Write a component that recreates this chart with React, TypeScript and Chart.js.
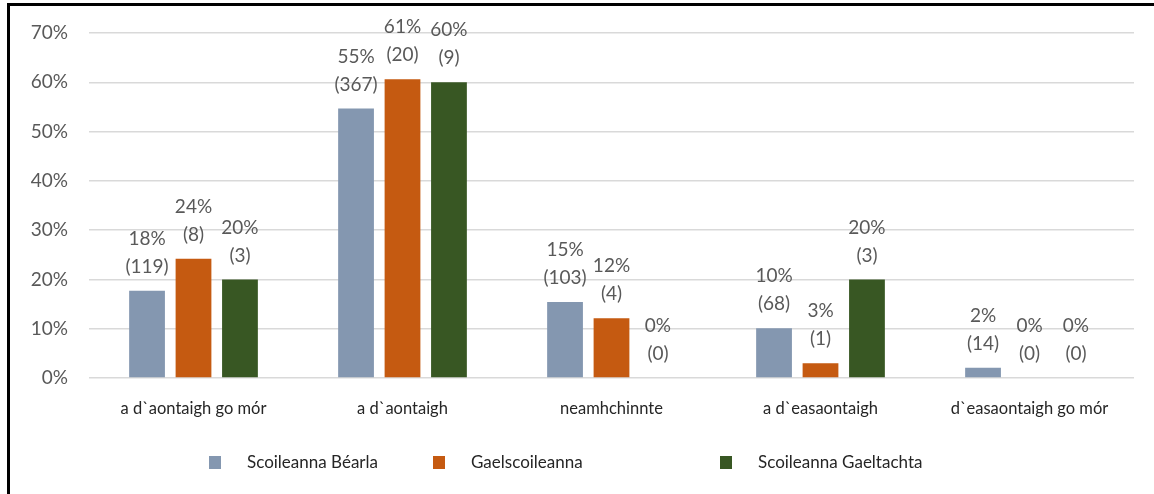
import React, { useEffect, useRef } from 'react';
import { Chart, registerables } from 'chart.js';

Chart.register(...registerables);

const categories = ['a d`aontaigh go mór', 'a d`aontaigh', 'neamhchinnte', 'a d`easaontaigh', 'd`easaontaigh go mór'];
const seriesNames = ['Scoileanna Béarla', 'Gaelscoileanna', 'Scoileanna Gaeltachta'];
const seriesColors = ['#8497B0', '#C55A11', '#385723'];

const bearlaValues = [17.7, 54.7, 15.4, 10.1, 2.1];
const gaelValues = [24.2, 60.6, 12.1, 3.0, 0];
const gaeltachtValues = [20, 60, 0, 20, 0];

const bearlaPct = ['18%', '55%', '15%', '10%', '2%'];
const bearlaCounts = ['(119)', '(367)', '(103)', '(68)', '(14)'];
const gaelPct = ['24%', '61%', '12%', '3%', '0%'];
const gaelCounts = ['(8)', '(20)', '(4)', '(1)', '(0)'];
const gaeltachtPct = ['20%', '60%', '0%', '20%', '0%'];
const gaeltachtCounts = ['(3)', '(9)', '(0)', '(3)', '(0)'];

const yTicks = [0, 10, 20, 30, 40, 50, 60, 70];

const FONT = 'Lato, "Open Sans", sans-serif';

const pctLabels = [bearlaPct, gaelPct, gaeltachtPct];
const countLabels = [bearlaCounts, gaelCounts, gaeltachtCounts];

const labelPlugin = {
  id: 'twoLineLabels',
  afterDatasetsDraw(chart: any) {
    const ctx = chart.ctx;
    ctx.save();
    ctx.font = `19px ${FONT}`;
    ctx.fillStyle = '#595959';
    ctx.textAlign = 'center';
    ctx.textBaseline = 'middle';
    chart.data.datasets.forEach((_ds: any, di: number) => {
      const meta = chart.getDatasetMeta(di);
      meta.data.forEach((el: any, i: number) => {
        ctx.fillText(countLabels[di][i], el.x, el.y - 24);
        ctx.fillText(pctLabels[di][i], el.x, el.y - 52);
      });
    });
    ctx.restore();
  },
};

const legendBoxX = [209, 433, 720];

const legendPlugin = {
  id: 'customLegend',
  afterDraw(chart: any) {
    const ctx = chart.ctx;
    ctx.save();
    ctx.font = `17px ${FONT}`;
    ctx.textBaseline = 'middle';
    ctx.textAlign = 'left';
    const y = 463;
    seriesNames.forEach((name, i) => {
      ctx.fillStyle = seriesColors[i];
      ctx.fillRect(legendBoxX[i], y - 7, 12, 13);
      ctx.fillStyle = '#262626';
      ctx.fillText(name, legendBoxX[i] + 38, y);
    });
    ctx.restore();
  },
};

export default function App() {
  const canvasRef = useRef<HTMLCanvasElement | null>(null);

  useEffect(() => {
    if (!canvasRef.current) return;
    const chart = new Chart(canvasRef.current, {
      type: 'bar',
      data: {
        labels: categories,
        datasets: [
          { label: seriesNames[0], data: bearlaValues, backgroundColor: seriesColors[0] },
          { label: seriesNames[1], data: gaelValues, backgroundColor: seriesColors[1] },
          { label: seriesNames[2], data: gaeltachtValues, backgroundColor: seriesColors[2] },
        ],
      },
      options: {
        responsive: false,
        animation: false,
        layout: { padding: { top: 33, right: 20, bottom: 56, left: 0 } },
        datasets: {
          bar: { categoryPercentage: 0.667, barPercentage: 0.77 },
        },
        plugins: {
          legend: { display: false },
          tooltip: { enabled: false },
        },
        scales: {
          x: {
            grid: { display: false, drawTicks: false },
            border: { display: false },
            ticks: {
              padding: 21,
              color: '#262626',
              font: { family: FONT, size: 16.5 },
            },
            afterFit(scale: any) {
              scale.height = 60;
            },
          },
          y: {
            min: 0,
            max: 70,
            afterBuildTicks(scale: any) {
              scale.ticks = yTicks.map((v) => ({ value: v }));
            },
            grid: { color: '#D9D9D9', lineWidth: 1.5, drawTicks: false },
            border: { display: false },
            ticks: {
              padding: 21,
              color: '#595959',
              font: { family: FONT, size: 19 },
              callback: (v: any) => `${v}%`,
            },
            afterFit(scale: any) {
              scale.width = 89;
            },
          },
        },
      },
      plugins: [labelPlugin, legendPlugin],
    });
    return () => chart.destroy();
  }, []);

  return (
    <div style={{ position: 'fixed', left: 0, top: 0, width: 1154, height: 494, background: '#fff' }}>
      <canvas ref={canvasRef} width={1154} height={494} style={{ display: 'block' }} />
      <div
        style={{
          position: 'absolute',
          left: 7,
          top: 3,
          right: 0,
          bottom: 0,
          borderTop: '3px solid #000',
          borderLeft: '3px solid #000',
          pointerEvents: 'none',
        }}
      />
    </div>
  );
}
